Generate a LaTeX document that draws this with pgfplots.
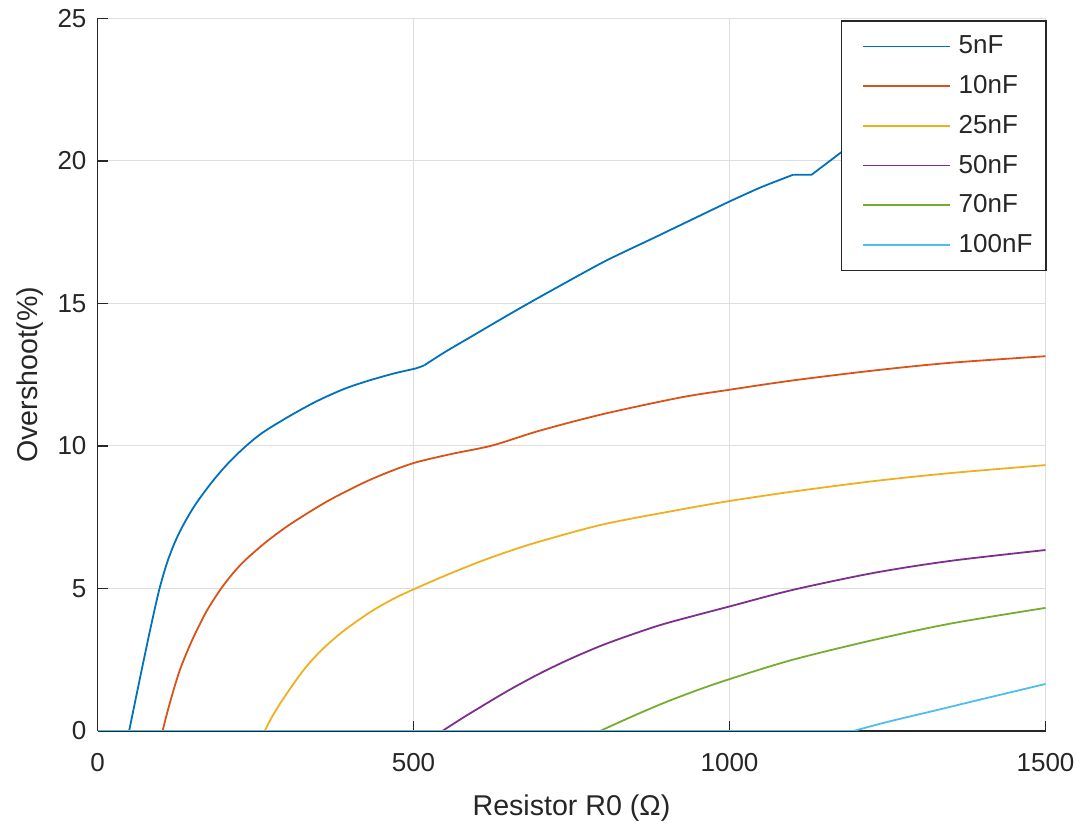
\documentclass[border=0pt]{standalone}
\usepackage{fontspec}
\setmainfont{Liberation Sans}
\usepackage{pgfplots}
\pgfplotsset{compat=1.18}

\definecolor{mB}{rgb}{0,0.447,0.741}
\definecolor{mR}{rgb}{0.850,0.325,0.098}
\definecolor{mY}{rgb}{0.929,0.694,0.125}
\definecolor{mP}{rgb}{0.494,0.184,0.556}
\definecolor{mG}{rgb}{0.466,0.674,0.188}
\definecolor{mC}{rgb}{0.301,0.745,0.933}
\definecolor{axgray}{rgb}{0.15,0.15,0.15}

\begin{document}
\begin{tikzpicture}
\begin{axis}[
  name=main,
  scale only axis,
  width=474pt, height=356.25pt,
  xmin=0, xmax=1500, ymin=0, ymax=25,
  xtick={0,500,...,1500}, ytick={0,5,...,25},
  axis lines*=left,
  axis line style={draw=axgray, line width=0.8pt, -},
  tick align=inside,
  major tick length=5pt,
  tick style={draw=axgray, line width=0.8pt},
  grid=major,
  grid style={draw=black!13, line width=0.5pt},
  /pgf/number format/assume math mode=true,
  /pgf/number format/set thousands separator={},
  ticklabel style={font=\fontsize{13}{15}\selectfont, text=axgray},
  xticklabel style={yshift=-7.5pt},
  yticklabel style={xshift=-2pt},
  label style={font=\fontsize{14.3}{17}\selectfont, text=axgray},
  xlabel={Resistor R0 (Ω)},
  ylabel={Overshoot(\%)},
  xlabel style={at={(rel axis cs:0.5,0)}, anchor=center, yshift=-38.5pt},
  ylabel style={at={(rel axis cs:0,0.5)}, anchor=center, yshift=33.75pt},
  legend image code/.code={\path (0pt,0pt) -- (0pt,0pt); \draw[#1] (2.5pt,0pt) -- (46pt,0pt);},
  legend style={
    at={(rel axis cs:1,1)}, anchor=north east, xshift=0.75pt, yshift=-0.75pt,
    draw=axgray, line width=0.8pt, fill=white,
    inner xsep=7.75pt, inner ysep=2.9pt,
    column sep=4pt, row sep=0pt,
    nodes={inner sep=0pt, text width=36pt, minimum height=19.85pt, align=left,
           font=\fontsize{13}{15}\selectfont, text=axgray},
  },
  legend cell align=left,
  every axis plot/.append style={line width=0.9pt},
]
% C = 5 nF
\addplot[mB, forget plot] coordinates {(0,0) (50,0)};
\addplot[mB, smooth, tension=0.5] coordinates {
 (50,0) (60,1.08) (71,2.26) (84,3.62) (97.6,4.95) (110,5.9) (122,6.6)
 (135,7.2) (155,7.95) (182,8.76) (207,9.4) (232.5,9.95) (260,10.45)
 (300,11.0) (345,11.55) (390,12.0) (430,12.3) (470,12.55) (503,12.72)
 (517,12.83)};
\addlegendentry{5nF}
\addplot[mB, smooth, tension=0.4, forget plot] coordinates {
 (517,12.83) (550,13.3) (600,13.95) (650,14.6) (700,15.23) (800,16.45)
 (880,17.3) (954,18.09) (1002,18.6) (1050,19.08) (1101,19.52)};
\addplot[mB, forget plot] coordinates {
 (1101,19.52) (1130,19.52) (1180,20.36) (1250,21.0) (1350,21.9) (1500,23.0)};
% C = 10 nF
\addplot[mR, forget plot] coordinates {(0,0) (103,0)};
\addplot[mR, smooth, tension=0.5] coordinates {
 (103,0) (110,0.62) (120,1.41) (131.6,2.22) (150,3.2) (172,4.18) (195,4.98)
 (215,5.55) (234,6.0) (265,6.6) (298,7.15) (335,7.68) (371,8.15) (420,8.7)
 (460,9.08) (503,9.42) (560,9.72) (625,10.02) (700,10.54) (800,11.12)
 (922,11.7) (1002,11.98) (1100,12.3) (1229,12.65) (1350,12.92) (1500,13.15)};
\addlegendentry{10nF}
% C = 25 nF
\addplot[mY, forget plot] coordinates {(0,0) (264.5,0)};
\addplot[mY, smooth, tension=0.5] coordinates {
 (264.5,0) (275,0.45) (290,1.0) (310,1.65) (329,2.22) (355,2.85) (387,3.47)
 (430,4.15) (465,4.6) (500,4.97) (550,5.45) (600,5.9) (650,6.3) (700,6.65)
 (800,7.25) (920,7.76) (1000,8.07) (1100,8.4) (1229,8.77) (1350,9.05)
 (1500,9.33)};
\addlegendentry{25nF}
% C = 50 nF
\addplot[mP, forget plot] coordinates {(0,0) (545.6,0)};
\addplot[mP, smooth, tension=0.5] coordinates {
 (545.6,0) (575,0.42) (600,0.76) (650,1.42) (700,2.02) (750,2.55) (800,3.02)
 (850,3.42) (900,3.78) (1000,4.37) (1100,4.95) (1229,5.55) (1350,5.97)
 (1500,6.35)};
\addlegendentry{50nF}
% C = 70 nF
\addplot[mG, forget plot] coordinates {(0,0) (795,0)};
\addplot[mG, smooth, tension=0.5] coordinates {
 (795,0) (850,0.55) (900,1.02) (950,1.44) (1000,1.82) (1100,2.5) (1229,3.2)
 (1350,3.77) (1500,4.32)};
\addlegendentry{70nF}
% C = 100 nF
\addplot[mC, forget plot] coordinates {(0,0) (1196,0)};
\addplot[mC, smooth, tension=0.5] coordinates {
 (1196,0) (1250,0.32) (1333,0.76) (1400,1.12) (1500,1.65)};
\addlegendentry{100nF}
\end{axis}
% page frame around the axis box
\pgfresetboundingbox
\path (main.south west) ++(-48.75pt,-51pt) coordinate (bbA);
\path (main.north east) ++(19.25pt,9.25pt) coordinate (bbB);
\path (bbA) rectangle (bbB);
\end{tikzpicture}
\end{document}
